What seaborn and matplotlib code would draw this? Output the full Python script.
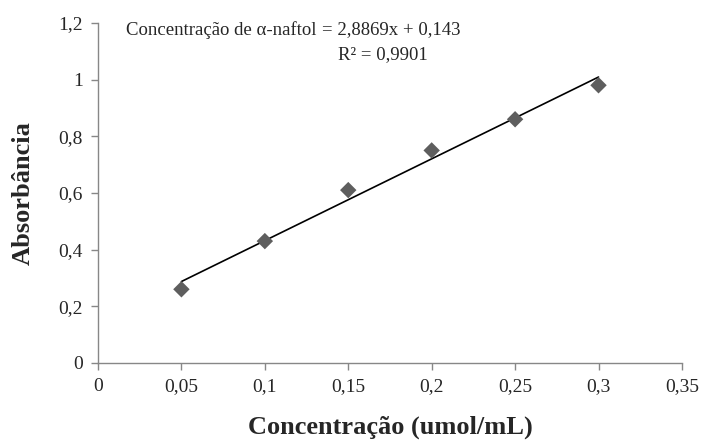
import matplotlib
matplotlib.use('Agg')
import matplotlib.pyplot as plt
import seaborn as sns
import pandas as pd

# Data
concentracao = [0.05, 0.10, 0.15, 0.20, 0.25, 0.30]
absorbancia = [0.26, 0.43, 0.61, 0.75, 0.86, 0.98]
slope = 2.8869
intercept = 0.143
x_ticks = [0, 0.05, 0.1, 0.15, 0.2, 0.25, 0.3, 0.35]
y_ticks = [0, 0.2, 0.4, 0.6, 0.8, 1.0, 1.2]

df = pd.DataFrame({'x': concentracao, 'y': absorbancia})
trend = pd.DataFrame({'x': [min(concentracao), max(concentracao)]})
trend['y'] = slope * trend['x'] + intercept

sns.set_style('white')
plt.rcParams['font.family'] = ['Liberation Serif', 'DejaVu Serif']

fig = plt.figure(figsize=(7.01, 4.41), dpi=100)
ax = fig.add_axes([0.1398, 0.177, 0.833, 0.771])

# trendline first, then the points on top
sns.lineplot(data=trend, x='x', y='y', color='black', linewidth=1.2, ax=ax)
sns.scatterplot(data=df, x='x', y='y', marker='D', s=70, color='#5e5e5e',
                edgecolor='none', ax=ax, zorder=3)

ax.set_xlim(0, 0.35)
ax.set_ylim(0, 1.2)
ax.set_xticks(x_ticks)
ax.set_yticks(y_ticks)

def br(v):
    # decimal comma
    return ('%g' % v).replace('.', ',')
ax.set_xticklabels([br(v) for v in x_ticks])
ax.set_yticklabels([br(v) for v in y_ticks])

for side in ['top', 'right']:
    ax.spines[side].set_visible(False)
for side in ['left', 'bottom']:
    ax.spines[side].set_color('#878787')
    ax.spines[side].set_linewidth(1)
ax.tick_params(axis='both', bottom=True, left=True, direction='out', length=5,
               width=1, color='#878787', labelsize=14, pad=6)

ax.set_xlabel('Concentração (umol/mL)', fontsize=19, fontweight='bold', labelpad=15)
ax.set_ylabel('Absorbância', fontsize=19, fontweight='bold', labelpad=17)

# equation of the trendline
ax.text(0.1312, 1.175, 'Concentração de α-naftol', fontsize=13.5, va='center', ha='right')
ax.text(0.1342, 1.175, '= 2,8869x + 0,143', fontsize=13.5, va='center', ha='left')
ax.text(0.1438, 1.087, 'R² = 0,9901', fontsize=13.5, va='center', ha='left')

fig.savefig('out.png', dpi=100)
